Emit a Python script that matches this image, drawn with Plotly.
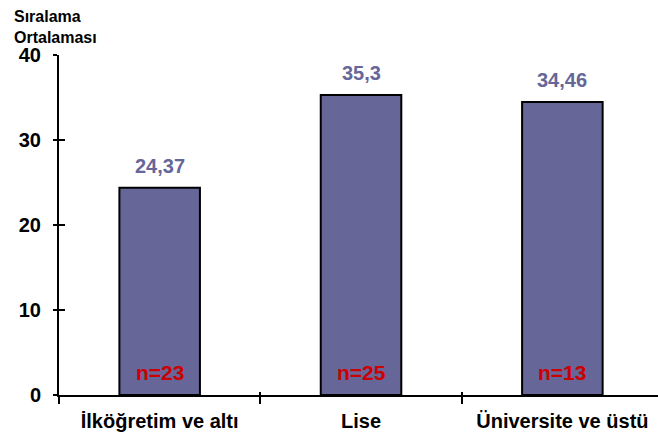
import plotly.graph_objects as go

# Ranking averages by education level
categories = ["İlköğretim ve altı", "Lise", "Üniversite ve üstü"]
rank_means = [24.37, 35.3, 34.46]
value_labels = ["24,37", "35,3", "34,46"]
sample_sizes = ["n=23", "n=25", "n=13"]
y_ticks = [0, 10, 20, 30, 40]

BAR_COLOR = "#666699"
LABEL_COLOR = "#666699"
N_COLOR = "#cc0000"
FONT = "Liberation Sans, Arial, sans-serif"

x_range = [-0.5, 2.475]
y_range = [0, 40]

fig = go.Figure()

fig.add_trace(go.Bar(
    x=categories,
    y=rank_means,
    width=0.4,
    marker=dict(color=BAR_COLOR, line=dict(color="black", width=2)),
    hoverinfo="skip",
))

# Invisible trace that anchors the overlay axes (inner half of the crossing ticks)
fig.add_trace(go.Scatter(
    x=[0], y=[0], xaxis="x2", yaxis="y2",
    mode="markers", marker=dict(opacity=0), showlegend=False, hoverinfo="skip",
))

annotations = []
for cat, v, lab in zip(categories, rank_means, value_labels):
    annotations.append(dict(
        x=cat, y=v, xref="x", yref="y", text=f"<b>{lab}</b>",
        showarrow=False, yanchor="bottom", yshift=9,
        font=dict(family=FONT, size=20, color=LABEL_COLOR),
    ))
for cat, n in zip(categories, sample_sizes):
    annotations.append(dict(
        x=cat, y=0, xref="x", yref="y", text=f"<b>{n}</b>",
        showarrow=False, yanchor="bottom", yshift=9,
        font=dict(family=FONT, size=21, color=N_COLOR),
    ))
annotations.append(dict(
    x=-0.078, y=1.145, xref="paper", yref="paper",
    text="<b>Sıralama<br>Ortalaması</b>", align="left",
    showarrow=False, xanchor="left", yanchor="top",
    font=dict(family=FONT, size=16, color="black"),
))

fig.update_layout(
    template="none",
    width=658, height=439,
    margin=dict(l=59, r=0, t=55, b=44, autoexpand=False),
    paper_bgcolor="white", plot_bgcolor="white",
    showlegend=False,
    bargap=0.6,
    font=dict(family=FONT, color="black"),
    xaxis=dict(
        type="category", categoryorder="array", categoryarray=categories,
        range=x_range, tickson="boundaries",
        ticks="outside", ticklen=7, tickwidth=2, tickcolor="black",
        showline=True, linecolor="black", linewidth=2,
        showgrid=False, zeroline=False, automargin=False,
        tickfont=dict(family=FONT, size=20, color="black", weight="bold"),
        ticklabelstandoff=7,
    ),
    yaxis=dict(
        range=y_range, tickvals=y_ticks,
        ticks="outside", ticklen=4, tickwidth=2, tickcolor="black",
        showline=True, linecolor="black", linewidth=2,
        showgrid=False, zeroline=False, automargin=False,
        tickfont=dict(family=FONT, size=20, color="black", weight="bold"),
        ticklabelstandoff=8,
    ),
    xaxis2=dict(
        overlaying="x", anchor="y2", range=x_range,
        tickvals=[-0.5, 0.5, 1.5, 2.5],
        ticks="inside", ticklen=3, tickwidth=2, tickcolor="black",
        showticklabels=False, showline=False, showgrid=False, zeroline=False,
    ),
    yaxis2=dict(
        overlaying="y", anchor="x2", range=y_range, tickvals=y_ticks,
        ticks="inside", ticklen=6, tickwidth=2, tickcolor="black",
        showticklabels=False, showline=False, showgrid=False, zeroline=False,
    ),
    annotations=annotations,
)

fig.write_html("out.html")
